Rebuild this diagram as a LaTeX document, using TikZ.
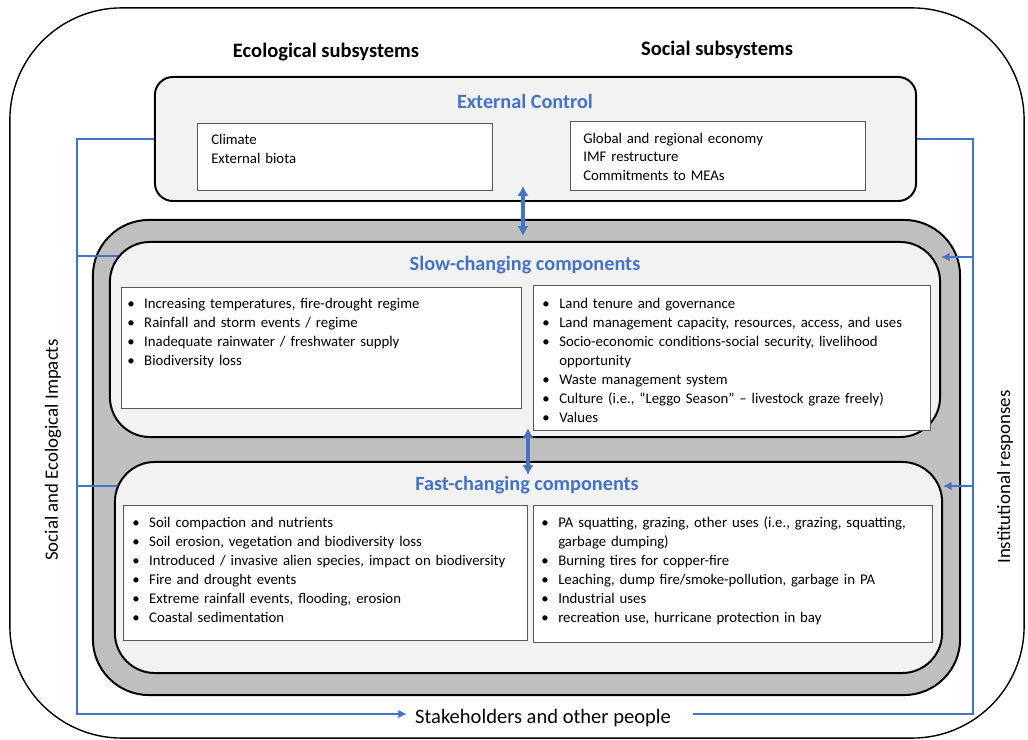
\documentclass[tikz,border=0pt]{standalone}
\usepackage{fontspec}
\setmainfont{Carlito}
\usetikzlibrary{arrows.meta, positioning}

\definecolor{linkblue}{HTML}{4472C4}
\definecolor{panelgray}{HTML}{F2F2F2}
\definecolor{coregray}{HTML}{BFBFBF}
\definecolor{boxline}{HTML}{595959}

% one bullet line with a hanging indent
\newcommand{\bitem}[1]{\par\hangindent=1.15em\hangafter=1\noindent\makebox[1.15em][l]{\textbullet}#1}
% line break that keeps the hanging indent
\newcommand{\wrapline}{\hfil\break}

\tikzset{
  frame/.style={draw, line width=1pt, rounded corners=2.8cm, inner sep=0pt},
  panel/.style={draw, line width=1.4pt, fill=panelgray, rounded corners=#1, inner sep=0pt},
  panel/.default=1cm,
  infobox/.style={draw=boxline, line width=0.6pt, fill=white, inner sep=0pt},
  listtext/.style={anchor=north west, align=left, inner sep=0pt,
    font=\fontsize{10.5}{13.5}\selectfont},
  heading/.style={font=\fontsize{14.6}{17}\selectfont\bfseries},
  paneltitle/.style={font=\fontsize{14.4}{17}\selectfont\bfseries, text=linkblue},
  sidelabel/.style={font=\fontsize{13.4}{16}\selectfont},
  link/.style={draw=linkblue, line width=1pt},
  linkarrow/.style={link, -{Latex[length=6pt,width=6pt]}},
  twoway/.style={draw=linkblue, line width=2.2pt, {Latex[length=7pt,width=8pt]}-{Latex[length=7pt,width=8pt]}}
}

\begin{document}
\begin{tikzpicture}[x=0.025cm, y=-0.025cm]
    \useasboundingbox (0,0) rectangle (1028,740);

    % ---------------------------------------------------
    % 1. Frame and headings
    % ---------------------------------------------------
    \node[frame, minimum width=25.35cm, minimum height=18.25cm] (frame) at (517,373) {};
    \node[heading] (ecoHead) at (326,52) {Ecological subsystems};
    \node[heading] (socHead) at (717,50) {Social subsystems};

    % ---------------------------------------------------
    % 2. External control
    % ---------------------------------------------------
    \node[panel=0.45cm, minimum width=19.025cm, minimum height=3.1cm] (ext) at (535.5,139) {};
    \node[paneltitle] (extTitle) at (525,101) {External Control};
    \node[infobox, minimum width=7.375cm, minimum height=1.675cm] (extEco) at (344.5,156.5) {};
    \node[infobox, minimum width=7.375cm, minimum height=1.725cm] (extSoc) at (717.5,155.5) {};
    \node[listtext, text width=7cm] (extEcoText) at (211,134) {Climate\\External biota};
    \node[listtext, text width=7cm, font=\fontsize{10.5}{13}\selectfont] (extSocText) at (583,133)
        {Global and regional economy\\IMF restructure\\Commitments to MEAs};

    % ---------------------------------------------------
    % 3. Core (grey) and the feedback wires behind the panels
    % ---------------------------------------------------
    \node[panel=1.4cm, fill=coregray, minimum width=21.675cm, minimum height=11.875cm] (core) at (526.5,457.5) {};

    \node[sidelabel, font=\fontsize{14.6}{17}\selectfont, inner sep=0.2cm] (stake) at (543,718) {Stakeholders and other people};
    \node[sidelabel, rotate=90] (impacts) at (53,450) {Social and Ecological Impacts};
    \node[sidelabel, rotate=90] (responses) at (1005,477) {Institutional responses};

    \coordinate (cornerL) at (77,714);
    \coordinate (cornerR) at (973,714);
    \coordinate (tapSlowL) at (77,256);
    \coordinate (tapFastL) at (77,486);
    \coordinate (tapSlowR) at (973,257);
    \coordinate (tapFastR) at (973,486);

    % impacts: left bus down to the stakeholders
    \draw[linkarrow] (ext.west) -| (cornerL) -- (cornerL -| stake.west);
    \draw[link] (tapSlowL) -- (tapSlowL -| core.center);
    \draw[link] (tapFastL) -- (tapFastL -| core.center);
    % responses: right bus back up to the controls
    \draw[link] ([xshift=0.35cm]cornerR -| stake.east) -- (cornerR) |- (ext.east);

    % ---------------------------------------------------
    % 4. Slow-changing components
    % ---------------------------------------------------
    \node[panel=1cm, minimum width=20.75cm, minimum height=4.875cm] (slow) at (525,339.5) {};
    \node[paneltitle] (slowTitle) at (525,265) {Slow-changing components};
    \node[infobox, minimum width=10cm, minimum height=3.025cm] (slowEco) at (321,347.5) {};
    \node[infobox, minimum width=9.925cm, minimum height=3.625cm] (slowSoc) at (731.5,357.5) {};
    \node[listtext, text width=9.5cm] (slowEcoText) at (127,289) {%
        \bitem{Increasing temperatures, fire-drought regime}
        \bitem{Rainfall and storm events / regime}
        \bitem{Inadequate rainwater / freshwater supply}
        \bitem{Biodiversity loss}};
    \node[listtext, text width=9.6cm] (slowSocText) at (542,289) {%
        \bitem{Land tenure and governance}
        \bitem{Land management capacity, resources, access, and uses}
        \bitem{Socio-economic conditions-social security, livelihood\wrapline opportunity}
        \bitem{Waste management system}
        \bitem{Culture (i.e., “Leggo Season” – livestock graze freely)}
        \bitem{Values}};

    % ---------------------------------------------------
    % 5. Fast-changing components
    % ---------------------------------------------------
    \node[panel=1cm, minimum width=20.675cm, minimum height=5.275cm] (fast) at (528.5,567.5) {};
    \node[paneltitle] (fastTitle) at (527,485) {Fast-changing components};
    \node[infobox, minimum width=10.1cm, minimum height=3.375cm] (fastEco) at (325,572.5) {};
    \node[infobox, minimum width=9.975cm, minimum height=3.425cm] (fastSoc) at (732.5,573.5) {};
    \node[listtext, text width=9.7cm] (fastEcoText) at (132,508) {%
        \bitem{Soil compaction and nutrients}
        \bitem{Soil erosion, vegetation and biodiversity loss}
        \bitem{Introduced / invasive alien species, impact on biodiversity}
        \bitem{Fire and drought events}
        \bitem{Extreme rainfall events, flooding, erosion}
        \bitem{Coastal sedimentation}};
    \node[listtext, text width=9.6cm] (fastSocText) at (541,508) {%
        \bitem{PA squatting, grazing, other uses (i.e., grazing, squatting,\wrapline garbage dumping)}
        \bitem{Burning tires for copper-fire}
        \bitem{Leaching, dump fire/smoke-pollution, garbage in PA}
        \bitem{Industrial uses}
        \bitem{recreation use, hurricane protection in bay}};

    % ---------------------------------------------------
    % 6. Arrows on top
    % ---------------------------------------------------
    \coordinate (extLink) at (523,186);
    \coordinate (slowLinkTop) at (523,236);
    \coordinate (slowLinkLow) at (528,428);
    \coordinate (fastLink) at (528,475);
    \draw[twoway] (extLink) -- (slowLinkTop);
    \draw[twoway] (slowLinkLow) -- (fastLink);

    \draw[linkarrow] (tapSlowR) -- (tapSlowR -| slow.east);
    \draw[linkarrow] (tapFastR) -- (tapFastR -| fast.east);

\end{tikzpicture}
\end{document}
